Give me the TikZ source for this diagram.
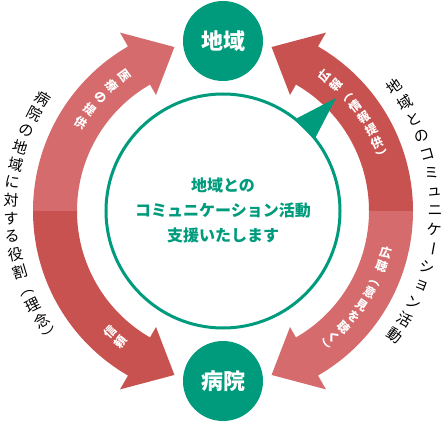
\documentclass[tikz,border=0pt]{standalone}
\usepackage{fontspec}
\newfontfamily\jp{Noto Sans CJK JP}
\definecolor{grn}{HTML}{009B7C}
\definecolor{redL}{HTML}{D56B6D}
\definecolor{redD}{HTML}{C85250}
\newcommand\vrt[1]{\rotatebox[origin=c]{-90}{#1}}
\newcommand\arctext[6]{%
  \foreach \ch [count=\i from 0] in {#6} {%
    \pgfmathsetmacro\ang{#1+(#2)*\i}%
    \pgfmathsetmacro\rot{\ang+(#4)}%
    \node[#5, rotate=\rot] (c\i) at (\ang:#3) {\ch};
  }}
\tikzset{
  outertxt/.style={inner sep=0pt, font=\jp\fontsize{15pt}{15pt}\selectfont, text=black},
  arrowtxt/.style={inner sep=0pt, font=\jp\bfseries\fontsize{12pt}{12pt}\selectfont, text=white},
  placebox/.style={circle, fill=grn, minimum size=80pt, inner sep=0pt, text=white,
    font=\jp\bfseries\fontsize{22pt}{22pt}\selectfont}
}
\begin{document}
\begin{tikzpicture}
\useasboundingbox (-223pt,-214pt) rectangle (223pt,211pt);
% arrows
\fill[redL] (180:190pt) arc[start angle=180, end angle=120, radius=190pt]
  -- (120:206pt) -- (106.5:171pt) -- (120:134pt) -- (120:146pt)
  arc[start angle=120, end angle=180, radius=146pt] -- cycle;
\fill[redD] (180:190pt) arc[start angle=180, end angle=240, radius=190pt]
  -- (240:206pt) -- (253.5:171pt) -- (240:134pt) -- (240:146pt)
  arc[start angle=240, end angle=180, radius=146pt] -- cycle;
\fill[redD] (0:190pt) arc[start angle=0, end angle=60, radius=190pt]
  -- (60:206pt) -- (73.5:171pt) -- (60:134pt) -- (60:146pt)
  arc[start angle=60, end angle=0, radius=146pt] -- cycle;
\fill[redL] (0:190pt) arc[start angle=0, end angle=-60, radius=190pt]
  -- (-60:206pt) -- (-73.5:171pt) -- (-60:134pt) -- (-60:146pt)
  arc[start angle=-60, end angle=0, radius=146pt] -- cycle;
% centre circle with pointer
\fill[grn] (38:116pt) -- (45:160pt) -- (52:116pt) -- cycle;
\node[circle, draw=grn, line width=3pt, minimum size=234pt, inner sep=0pt] (mid) at (0,0) {};
\node[inner sep=0pt, align=center, text=grn, font=\jp\bfseries\fontsize{16pt}{25pt}\selectfont] (midtxt) at (0,1pt)
  {地域との\\コミュニケーション活動\\支援いたします};
% place circles
\node[placebox] (chiiki) at (0,170pt) {地域};
\node[placebox] (byoin) at (0,-170pt) {病院};
% outer texts
\begin{scope}[name prefix=ro-]
\arctext{36}{-5.1429}{212pt}{0}{outertxt}{地,域,と,の,コ,ミ,ュ,ニ,ケ,\vrt{ー},シ,ョ,ン,活,動}
\end{scope}
\begin{scope}[name prefix=lo-]
\arctext{148}{4.857}{212pt}{-180}{outertxt}{病,院,の,地,域,に,対,す,る,役,割,\vrt{（},理,念,\vrt{）}}
\end{scope}
% arrow texts
\begin{scope}[name prefix=ru-]
\arctext{53}{-4.857}{169pt}{0}{arrowtxt}{広,報,\vrt{（},情,報,提,供,\vrt{）}}
\end{scope}
\begin{scope}[name prefix=rl-]
\arctext{-14.5}{-4.875}{168pt}{0}{arrowtxt}{広,聴,\vrt{（},意,見,を,聴,く,\vrt{）}}
\end{scope}
\begin{scope}[name prefix=lu-]
\arctext{126}{5.5}{167pt}{-180}{arrowtxt}{医,療,の,提,供}
\end{scope}
\begin{scope}[name prefix=ll-]
\arctext{227}{5}{166pt}{-180}{arrowtxt}{信,頼}
\end{scope}
\end{tikzpicture}
\end{document}
